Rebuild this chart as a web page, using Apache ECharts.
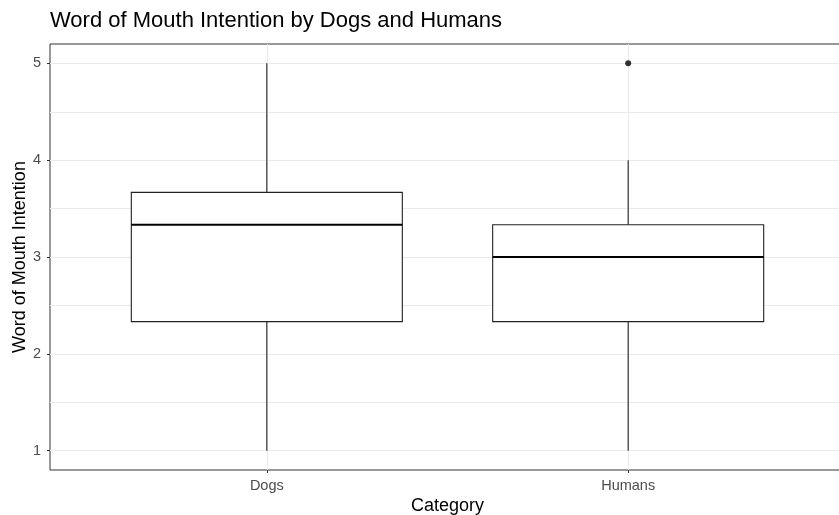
<!DOCTYPE html>
<html>
<head>
<meta charset="utf-8">
<script src="https://cdn.jsdelivr.net/npm/echarts@6/dist/echarts.min.js"></script>
<style>
  html, body { margin: 0; padding: 0; background: #fff; }
  #chart { width: 839px; height: 515px; }
</style>
</head>
<body>
<div id="chart"></div>
<script>
// Box summaries for each group: whisker low, Q1, median, Q3, whisker high
const categories = ['Dogs', 'Humans'];
const whiskerLow = [1, 1];
const q1 = [2.333, 2.333];
const median = [3.333, 3];
const q3 = [3.667, 3.333];
const whiskerHigh = [5, 4];
// Outlying observations: [group index, value]
const outliers = [[1, 5]];
const yMajorTicks = [1, 2, 3, 4, 5];
const yMinorTicks = [1.5, 2.5, 3.5, 4.5];

const boxData = categories.map((c, i) => [i + 1, whiskerLow[i], q1[i], median[i], q3[i], whiskerHigh[i]]);
const outlierData = outliers.map(o => [o[0] + 1, o[1]]);

const FONT = 'Liberation Sans, Arial, sans-serif';
const chart = echarts.init(document.getElementById('chart'), null, { renderer: 'canvas' });

function renderBox(params, api) {
  const x = api.value(0);
  const lo = api.coord([x, api.value(1)]);
  const b1 = api.coord([x, api.value(2)]);
  const md = api.coord([x, api.value(3)]);
  const b3 = api.coord([x, api.value(4)]);
  const hi = api.coord([x, api.value(5)]);
  const halfW = api.size([0.75, 0])[0] / 2;
  const stroke = { stroke: '#222', lineWidth: 1.1, fill: null };
  return {
    type: 'group',
    children: [
      { type: 'line', shape: { x1: lo[0], y1: lo[1], x2: b1[0], y2: b1[1] }, style: stroke },
      { type: 'line', shape: { x1: b3[0], y1: b3[1], x2: hi[0], y2: hi[1] }, style: stroke },
      { type: 'rect', shape: { x: b3[0] - halfW, y: b3[1], width: halfW * 2, height: b1[1] - b3[1] },
        style: { stroke: '#222', lineWidth: 1.1, fill: '#fff' } },
      { type: 'line', shape: { x1: md[0] - halfW, y1: md[1], x2: md[0] + halfW, y2: md[1] },
        style: { stroke: '#000', lineWidth: 2.2 } }
    ]
  };
}

const option = {
  backgroundColor: '#fff',
  animation: false,
  title: {
    text: 'Word of Mouth Intention by Dogs and Humans',
    left: 45, top: 5,
    textStyle: { fontFamily: FONT, fontSize: 22, fontWeight: 'normal', color: '#000' }
  },
  grid: {
    left: 50, top: 44, width: 795, height: 426,
    outerBoundsMode: 'none', containLabel: false,
    show: true, borderColor: '#333', borderWidth: 1, backgroundColor: 'transparent'
  },
  xAxis: [{
    type: 'value', min: 0.4, max: 2.6,
    name: 'Category', nameLocation: 'middle', nameGap: 27, nameMoveOverlap: false,
    nameTextStyle: { fontFamily: FONT, fontSize: 18, color: '#000', verticalAlign: 'top' },
    axisLine: { show: false },
    axisTick: { show: true, length: 3, lineStyle: { color: '#333' }, customValues: [1, 2] },
    axisLabel: { customValues: [1, 2], margin: 8, fontFamily: FONT, fontSize: 14.5, color: '#4d4d4d',
      formatter: v => categories[Math.round(v) - 1] || '' },
    splitLine: { show: true, lineStyle: { color: '#ebebeb', width: 1 } }
  }],
  yAxis: [{
    type: 'value', min: 0.8, max: 5.2,
    name: 'Word of Mouth Intention', nameLocation: 'middle', nameGap: 21, nameMoveOverlap: false,
    nameTextStyle: { fontFamily: FONT, fontSize: 18, color: '#000' },
    axisLine: { show: false },
    axisTick: { show: true, length: 3, lineStyle: { color: '#333' }, customValues: yMajorTicks },
    axisLabel: { customValues: yMajorTicks, margin: 9, fontFamily: FONT, fontSize: 14.5, color: '#4d4d4d' },
    splitLine: { show: true, lineStyle: { color: '#ebebeb', width: 1 } }
  }, {
    type: 'value', min: 0.8, max: 5.2, position: 'left',
    axisLine: { show: false }, axisTick: { show: false, customValues: yMinorTicks },
    axisLabel: { show: false, customValues: yMinorTicks },
    splitLine: { show: true, lineStyle: { color: '#ebebeb', width: 1 } }
  }],
  series: [{
    type: 'custom',
    renderItem: renderBox,
    data: boxData,
    encode: { x: 0, y: [1, 2, 3, 4, 5] },
    z: 3
  }, {
    type: 'scatter',
    data: outlierData,
    symbol: 'circle', symbolSize: 6,
    itemStyle: { color: '#000' },
    z: 4
  }]
};
chart.setOption(option);
</script>
</body>
</html>
